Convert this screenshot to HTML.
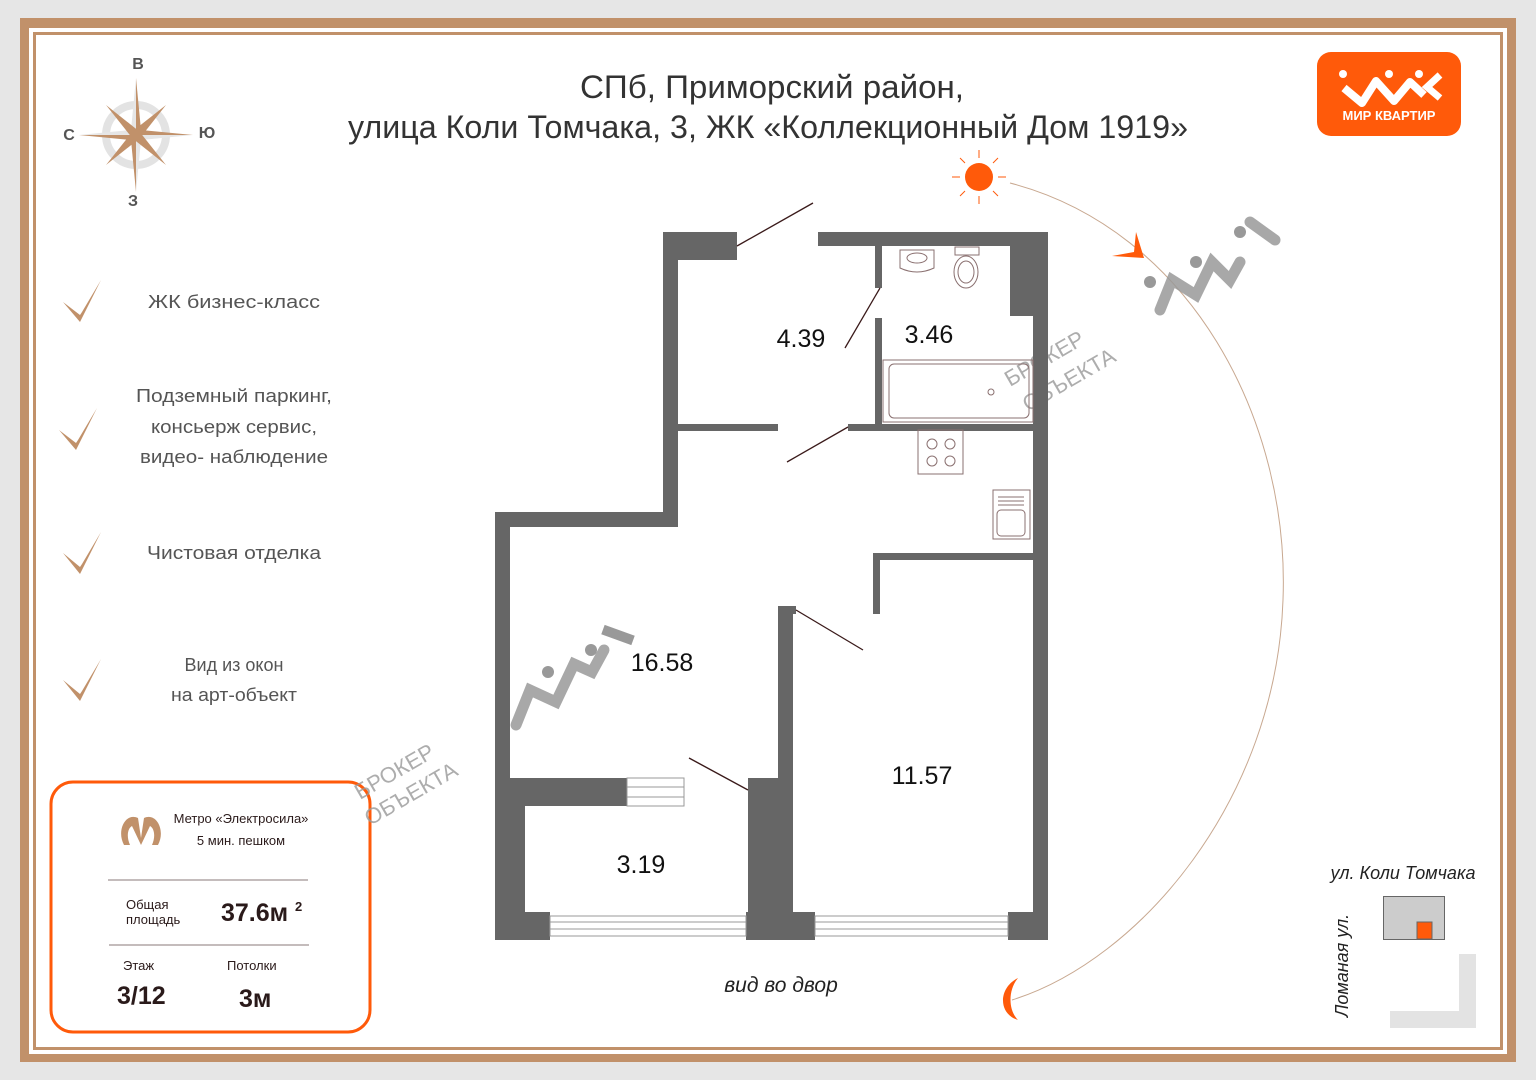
<!DOCTYPE html>
<html><head><meta charset="utf-8"><style>
html,body{margin:0;padding:0;width:1536px;height:1080px;overflow:hidden;background:#e6e6e6;font-family:"Liberation Sans",sans-serif}
svg text{font-family:"Liberation Sans","Noto Sans CJK SC",sans-serif}
</style></head><body>
<svg width="1536" height="1080" viewBox="0 0 1536 1080" xmlns="http://www.w3.org/2000/svg">
<rect x="20" y="18" width="1496" height="1044" fill="#c1916a"/>
<rect x="29" y="28" width="1478" height="1026" fill="#fff"/>
<rect x="34.5" y="33.5" width="1467" height="1015" fill="none" stroke="#c1916a" stroke-width="3"/>

<!-- compass -->
<g transform="translate(136,135)">
<circle r="30" fill="none" stroke="#e3e3e3" stroke-width="8"/>
<polygon points="0,-57 5,-5 0,0" fill="#c1916a"/><polygon points="0,-57 -5,-5 0,0" fill="#e6e6e6"/>
<polygon points="0,57 -5,5 0,0" fill="#c1916a"/><polygon points="0,57 5,5 0,0" fill="#e6e6e6"/>
<polygon points="-57,0 -5,5 0,0" fill="#c1916a"/><polygon points="-57,0 -5,-5 0,0" fill="#e6e6e6"/>
<polygon points="57,0 5,-5 0,0" fill="#c1916a"/><polygon points="57,0 5,5 0,0" fill="#e6e6e6"/>
<polygon points="-30,-30 -3,4 4,-3" fill="#c1916a"/><polygon points="30,-30 -3,-4 4,3" fill="#c1916a"/>
<polygon points="-30,30 -3,-4 4,3" fill="#c1916a"/><polygon points="30,30 3,-4 -4,3" fill="#c1916a"/>
</g>
<g font-weight="bold" font-size="16" fill="#555" text-anchor="middle">
<text x="138" y="69">В</text><text x="69" y="140">С</text><text x="207" y="138">Ю</text><text x="133" y="206">З</text></g>

<!-- title -->
<g font-size="32" fill="#333" text-anchor="middle">
<text x="772" y="98" textLength="384" lengthAdjust="spacingAndGlyphs">СПб, Приморский район,</text>
<text x="768" y="138" textLength="840" lengthAdjust="spacingAndGlyphs">улица Коли Томчака, 3, ЖК «Коллекционный Дом 1919»</text></g>

<!-- logo -->
<rect x="1317" y="52" width="144" height="84" rx="14" fill="#ff5a0a"/>
<polyline points="1344,88 1362,103 1376,81 1394,101 1410,82 1424,95" fill="none" stroke="#fff" stroke-width="8" stroke-linejoin="round"/>
<circle cx="1343" cy="74" r="4" fill="#fff"/><circle cx="1389" cy="74" r="4" fill="#fff"/><circle cx="1419" cy="74" r="4" fill="#fff"/>
<polyline points="1440,75 1427,87 1440,98" fill="none" stroke="#fff" stroke-width="7"/>
<text x="1389" y="120" font-size="13" font-weight="bold" fill="#fff" text-anchor="middle">МИР КВАРТИР</text>

<!-- checklist -->
<g fill="#c1916a">
<polygon points="63,302 80,322 101,280 82,312 80,315" /><polygon points="59,430 76,450 97,408 78,440 76,443"/>
<polygon points="63,553 80,574 101,532 82,564 80,567"/><polygon points="63,680 80,701 101,659 82,691 80,694"/></g>
<g font-size="18" fill="#555" text-anchor="middle">
<text x="234" y="308" textLength="172" lengthAdjust="spacingAndGlyphs">ЖК бизнес-класс</text>
<text x="234" y="402" textLength="196" lengthAdjust="spacingAndGlyphs">Подземный паркинг,</text><text x="234" y="433" textLength="166" lengthAdjust="spacingAndGlyphs">консьерж сервис,</text><text x="234" y="463" textLength="188" lengthAdjust="spacingAndGlyphs">видео- наблюдение</text>
<text x="234" y="559" textLength="174" lengthAdjust="spacingAndGlyphs">Чистовая отделка</text>
<text x="234" y="671">Вид из окон</text><text x="234" y="701" textLength="126" lengthAdjust="spacingAndGlyphs">на арт-объект</text></g>

<!-- info box -->
<rect x="51" y="782" width="319" height="250" rx="22" fill="#fff" stroke="#ff5a0a" stroke-width="3"/>
<path d="M124,845 C116,830 126,812 138,818 L141,838 L144,818 C156,812 166,830 158,845 L152,845 C156,836 154,828 150,826 L141,845 L132,826 C128,828 126,836 130,845Z" fill="#c1916a"/>
<g fill="#2a1a1a" font-size="13" text-anchor="middle"><text x="241" y="823">Метро «Электросила»</text><text x="241" y="845">5 мин. пешком</text></g>
<line x1="108" y1="880" x2="308" y2="880" stroke="#8a7a7a"/>
<line x1="109" y1="945" x2="309" y2="945" stroke="#8a7a7a"/>
<g fill="#2a1a1a" font-size="13"><text x="126" y="909">Общая</text><text x="126" y="924">площадь</text>
<text x="123" y="970">Этаж</text><text x="227" y="970">Потолки</text></g>
<g fill="#2a1a1a" font-weight="bold"><text x="221" y="921" font-size="25">37.6м</text><text x="295" y="911" font-size="13">2</text>
<text x="117" y="1004" font-size="25">3/12</text><text x="239" y="1007" font-size="25">3м</text></g>

<!-- sun arc -->
<path d="M1010,183 C1190,230 1290,420 1283,600 C1276,800 1140,960 1012,1000" fill="none" stroke="#c8a890" stroke-width="1"/>
<circle cx="979" cy="177" r="14" fill="#ff5a0a"/>
<g stroke="#ff5a0a" stroke-width="1">
<line x1="979" y1="150" x2="979" y2="158"/><line x1="979" y1="196" x2="979" y2="204"/><line x1="952" y1="177" x2="960" y2="177"/><line x1="998" y1="177" x2="1006" y2="177"/>
<line x1="960" y1="158" x2="965" y2="163"/><line x1="998" y1="158" x2="993" y2="163"/><line x1="960" y1="196" x2="965" y2="191"/><line x1="998" y1="196" x2="993" y2="191"/></g>
<polygon points="1112,256 1144,258 1136,232 1134,252" fill="#ff5a0a"/>
<path d="M1018,978 C998,988 998,1014 1018,1020 C1008,1010 1008,990 1018,978Z" fill="#ff5a0a"/>

<!-- watermarks -->
<g fill="none" stroke="#999" stroke-width="11" stroke-linecap="round" opacity="0.85">
<polyline points="1160,310 1172,280 1196,295 1212,262 1230,280 1240,262"/>
<polyline points="1250,222 1275,240"/>
<polyline points="516,725 530,690 556,702 574,664 592,672 604,650"/></g>
<g fill="#999"><circle cx="1150" cy="282" r="6"/><circle cx="1196" cy="262" r="6"/><circle cx="1240" cy="232" r="6"/>
<circle cx="502" cy="695" r="6"/><circle cx="548" cy="672" r="6"/><circle cx="591" cy="650" r="6"/><rect x="602" y="630" width="32" height="10" transform="rotate(20 618 635)"/></g>
<g fill="#999" font-size="22" opacity="0.8">
<text transform="translate(1010,387) rotate(-30)">БРОКЕР</text><text transform="translate(1028,412) rotate(-30)">ОБЪЕКТА</text>
<text transform="translate(360,800) rotate(-30)">БРОКЕР</text><text transform="translate(370,826) rotate(-30)">ОБЪЕКТА</text></g>

<!-- floor plan walls -->
<g fill="#666">
<rect x="663" y="232" width="74" height="28"/>
<rect x="663" y="232" width="15" height="295"/>
<rect x="818" y="232" width="230" height="14"/>
<rect x="1033" y="232" width="15" height="708"/>
<rect x="1010" y="232" width="38" height="84"/>
<rect x="875" y="246" width="7" height="42"/>
<rect x="875" y="318" width="7" height="110"/>
<rect x="678" y="424" width="100" height="7"/>
<rect x="848" y="424" width="185" height="7"/>
<rect x="495" y="512" width="183" height="15"/>
<rect x="495" y="512" width="15" height="428"/>
<rect x="495" y="778" width="30" height="162"/>
<rect x="510" y="778" width="117" height="28"/>
<rect x="495" y="912" width="55" height="28"/>
<rect x="778" y="606" width="15" height="306"/>
<rect x="778" y="606" width="18" height="8"/>
<rect x="748" y="778" width="35" height="134"/>
<rect x="746" y="912" width="69" height="28"/>
<rect x="1008" y="912" width="40" height="28"/>
<rect x="873" y="553" width="160" height="7"/>
<rect x="873" y="553" width="7" height="61"/>
</g>
<!-- windows -->
<g fill="none" stroke="#999" stroke-width="1">
<rect x="550" y="916" width="196" height="20"/><line x1="550" y1="922" x2="746" y2="922"/><line x1="550" y1="929" x2="746" y2="929"/>
<rect x="815" y="916" width="193" height="20"/><line x1="815" y1="922" x2="1008" y2="922"/><line x1="815" y1="929" x2="1008" y2="929"/>
<rect x="627" y="778" width="57" height="28"/><line x1="627" y1="787" x2="684" y2="787"/><line x1="627" y1="797" x2="684" y2="797"/>
</g>
<!-- doors -->
<g stroke="#3a1a1a" stroke-width="1.3">
<line x1="737" y1="246" x2="813" y2="203"/><line x1="880" y1="288" x2="845" y2="348"/>
<line x1="848" y1="427" x2="787" y2="462"/><line x1="796" y1="610" x2="863" y2="650"/>
<line x1="689" y1="758" x2="748" y2="790"/></g>
<!-- fixtures -->
<g fill="none" stroke="#8a7070" stroke-width="1">
<path d="M900,250 h34 v18 q-17,8 -34,0z"/><ellipse cx="917" cy="258" rx="10" ry="5"/>
<rect x="955" y="247" width="24" height="8"/><ellipse cx="966" cy="272" rx="12" ry="16"/><ellipse cx="966" cy="272" rx="8" ry="11"/>
<rect x="883" y="360" width="150" height="62"/><rect x="889" y="364" width="140" height="54" rx="5"/><circle cx="991" cy="392" r="3"/>
<rect x="918" y="430" width="45" height="44"/><circle cx="932" cy="444" r="5"/><circle cx="950" cy="444" r="5"/><circle cx="932" cy="461" r="5"/><circle cx="950" cy="461" r="5"/>
<rect x="993" y="490" width="37" height="49"/><rect x="997" y="510" width="28" height="26" rx="4"/>
<line x1="998" y1="497" x2="1024" y2="497"/><line x1="998" y1="501" x2="1024" y2="501"/><line x1="998" y1="505" x2="1024" y2="505"/></g>
<!-- room labels -->
<g font-size="25" fill="#111" text-anchor="middle">
<text x="801" y="347">4.39</text><text x="929" y="343">3.46</text><text x="662" y="671">16.58</text>
<text x="922" y="784">11.57</text><text x="641" y="873">3.19</text></g>
<text x="781" y="992" font-size="21" fill="#222" text-anchor="middle" font-style="italic">вид во двор</text>

<!-- map -->
<text x="1403" y="879" font-size="18" fill="#222" text-anchor="middle" font-style="italic">ул. Коли Томчака</text>
<text transform="translate(1348,1017) rotate(-90)" font-size="18" fill="#222" font-style="italic">Ломаная ул.</text>
<rect x="1383.5" y="896.5" width="61" height="43" fill="#ccc" stroke="#666"/>
<rect x="1417" y="922" width="15" height="17" fill="#ff5a0a" stroke="#666"/>
<path d="M1459,954 h17 v74 h-86 v-17 h69z" fill="#e3e3e3"/>
</svg>
</body></html>
